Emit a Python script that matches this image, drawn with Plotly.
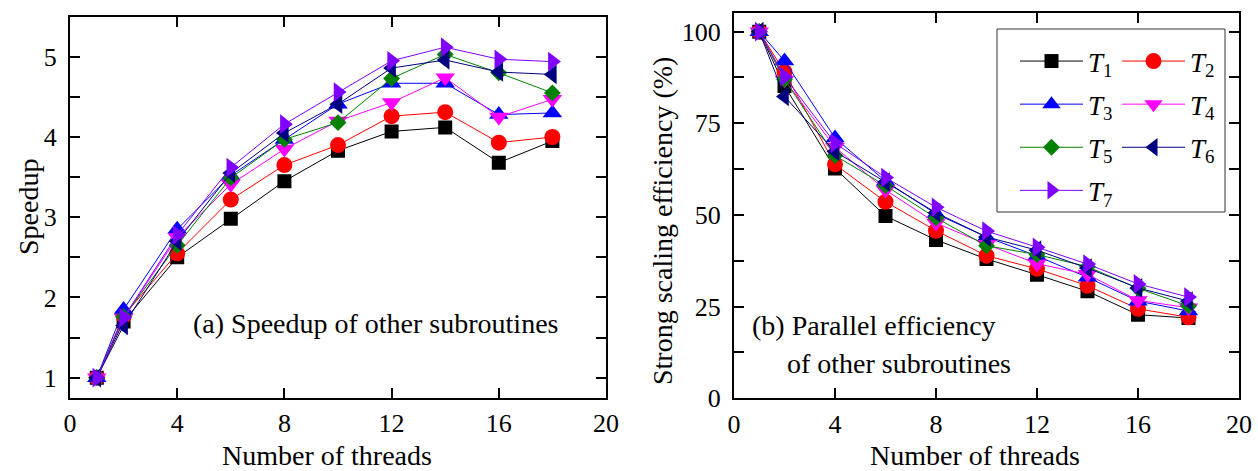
import plotly.graph_objects as go

W, H = 1258, 471
FONT = "Liberation Serif"

threads = [1, 2, 4, 6, 8, 10, 12, 14, 16, 18]

series_names = ["T1", "T2", "T3", "T4", "T5", "T6", "T7"]
legend_labels = ["<i>T</i><sub>1</sub>", "<i>T</i><sub>2</sub>", "<i>T</i><sub>3</sub>",
                 "<i>T</i><sub>4</sub>", "<i>T</i><sub>5</sub>", "<i>T</i><sub>6</sub>",
                 "<i>T</i><sub>7</sub>"]

# (a) speedup
speedup_T1 = [1.00, 1.70, 2.50, 2.98, 3.45, 3.83, 4.07, 4.12, 3.68, 3.95]
speedup_T2 = [1.00, 1.77, 2.55, 3.22, 3.65, 3.90, 4.26, 4.31, 3.93, 4.00]
speedup_T3 = [1.00, 1.85, 2.85, 3.52, 3.97, 4.41, 4.67, 4.67, 4.28, 4.30]
speedup_T4 = [1.00, 1.74, 2.75, 3.41, 3.85, 4.20, 4.43, 4.74, 4.25, 4.47]
speedup_T5 = [1.00, 1.76, 2.65, 3.49, 3.97, 4.18, 4.73, 5.03, 4.80, 4.55]
speedup_T6 = [1.00, 1.65, 2.70, 3.55, 4.05, 4.41, 4.86, 4.96, 4.81, 4.78]
speedup_T7 = [1.00, 1.75, 2.78, 3.62, 4.16, 4.56, 4.95, 5.12, 4.97, 4.94]

# (b) strong scaling efficiency (%)
eff_T1 = [100, 85.2, 62.7, 49.7, 43.2, 38.0, 33.7, 29.2, 22.8, 21.9]
eff_T2 = [100, 89.0, 63.8, 53.6, 45.7, 38.9, 35.3, 30.7, 24.4, 22.1]
eff_T3 = [100, 92.0, 71.0, 59.2, 50.3, 44.0, 38.8, 33.0, 26.5, 23.8]
eff_T4 = [100, 86.8, 68.5, 56.8, 47.8, 42.0, 36.7, 33.8, 26.7, 24.7]
eff_T5 = [100, 87.0, 66.2, 58.0, 49.2, 41.6, 39.2, 35.9, 30.0, 25.2]
eff_T6 = [100, 82.3, 67.3, 59.0, 50.6, 44.0, 40.4, 35.5, 30.1, 26.5]
eff_T7 = [100, 87.7, 69.6, 60.2, 52.1, 45.6, 41.2, 36.6, 31.2, 27.6]

speedups = [speedup_T1, speedup_T2, speedup_T3, speedup_T4, speedup_T5, speedup_T6, speedup_T7]
effs = [eff_T1, eff_T2, eff_T3, eff_T4, eff_T5, eff_T6, eff_T7]

colors = ["#000000", "#FF0000", "#0000FF", "#FF00FF", "#008000", "#000080", "#7F00FF"]
symbols = ["square", "circle", "triangle-up", "triangle-down", "diamond", "triangle-left", "triangle-right"]
sizes = [14, 16, 17, 17, 13, 17, 17]
legend_ids = ["legend", "legend2", "legend", "legend2", "legend", "legend2", "legend"]


def px(x):
    return x / W


def py(y):
    return 1 - y / H


fig = go.Figure()
for i in range(7):
    common = dict(mode="lines+markers",
                  line=dict(color=colors[i], width=1),
                  marker=dict(symbol=symbols[i], size=sizes[i], color=colors[i], line=dict(width=0)),
                  legendgroup=series_names[i], name=legend_labels[i])
    fig.add_trace(go.Scatter(x=threads, y=speedups[i], xaxis="x", yaxis="y",
                             showlegend=True, legend=legend_ids[i], **common))
    fig.add_trace(go.Scatter(x=threads, y=effs[i], xaxis="x2", yaxis="y2",
                             showlegend=False, **common))

tickfont = dict(family=FONT, size=26, color="black")
axis_common = dict(showline=True, linecolor="black", linewidth=2, mirror="allticks",
                   ticks="inside", ticklen=10, tickwidth=2, tickcolor="black",
                   tickfont=tickfont, showgrid=False, zeroline=False, fixedrange=True,
                   automargin=False)
minor_common = dict(ticks="inside", ticklen=10, tickwidth=2, tickcolor="black", showgrid=False)

legend_common = dict(yanchor="top", xanchor="left",
                     font=dict(family=FONT, size=27, color="black"), itemwidth=63,
                     bgcolor="rgba(0,0,0,0)", borderwidth=0, tracegroupgap=5,
                     traceorder="grouped")

fig.update_layout(
    template="none",
    width=W, height=H,
    margin=dict(l=0, r=0, t=0, b=0, autoexpand=False),
    paper_bgcolor="white", plot_bgcolor="white",
    font=dict(family=FONT, color="black"),
    xaxis=dict(domain=[px(70), px(606)], range=[0, 20], dtick=4, tick0=0,
               anchor="y", ticklabelstandoff=1, **axis_common),
    yaxis=dict(domain=[py(397.7), py(16.7)], range=[0.75, 5.5], dtick=1, tick0=0,
               anchor="x", minor=dict(dtick=0.5, **minor_common), ticklabelstandoff=6, **axis_common),
    xaxis2=dict(domain=[px(734), px(1239)], range=[0, 20], dtick=4, tick0=0,
                anchor="y2", ticklabelstandoff=1, **axis_common),
    yaxis2=dict(domain=[py(398.3), py(13.3)], range=[0, 105], dtick=25, tick0=0,
                anchor="x2", minor=dict(dtick=12.5, **minor_common), ticklabelstandoff=6, **axis_common),
    legend=dict(x=px(1015), y=py(37), **legend_common),
    legend2=dict(x=px(1117), y=py(37), **legend_common),
    hovermode=False,
    showlegend=True,
)

# legend frame
fig.add_shape(type="rect", xref="paper", yref="paper",
              x0=px(997), x1=px(1225), y0=py(212), y1=py(29),
              line=dict(color="#333333", width=1), fillcolor="rgba(0,0,0,0)", layer="above")

title_font = dict(family=FONT, size=28, color="black")
annos = [
    dict(text="Number of threads", x=px(327), y=py(455), xanchor="center", yanchor="middle"),
    dict(text="Number of threads", x=px(975), y=py(455), xanchor="center", yanchor="middle"),
    dict(text="Speedup", x=px(28), y=py(207), xanchor="center", yanchor="middle", textangle=-90),
    dict(text="Strong scaling efficiency (%)", x=px(662), y=py(221), xanchor="center", yanchor="middle", textangle=-90),
    dict(text="(a) Speedup of other subroutines", x=px(191), y=py(323), xanchor="left", yanchor="middle"),
    dict(text="(b) Parallel efficiency", x=px(750), y=py(325), xanchor="left", yanchor="middle"),
    dict(text="of other subroutines", x=px(785), y=py(363), xanchor="left", yanchor="middle"),
]
for a in annos:
    fig.add_annotation(xref="paper", yref="paper", showarrow=False, font=title_font, **a)

fig.write_html("out.html")
